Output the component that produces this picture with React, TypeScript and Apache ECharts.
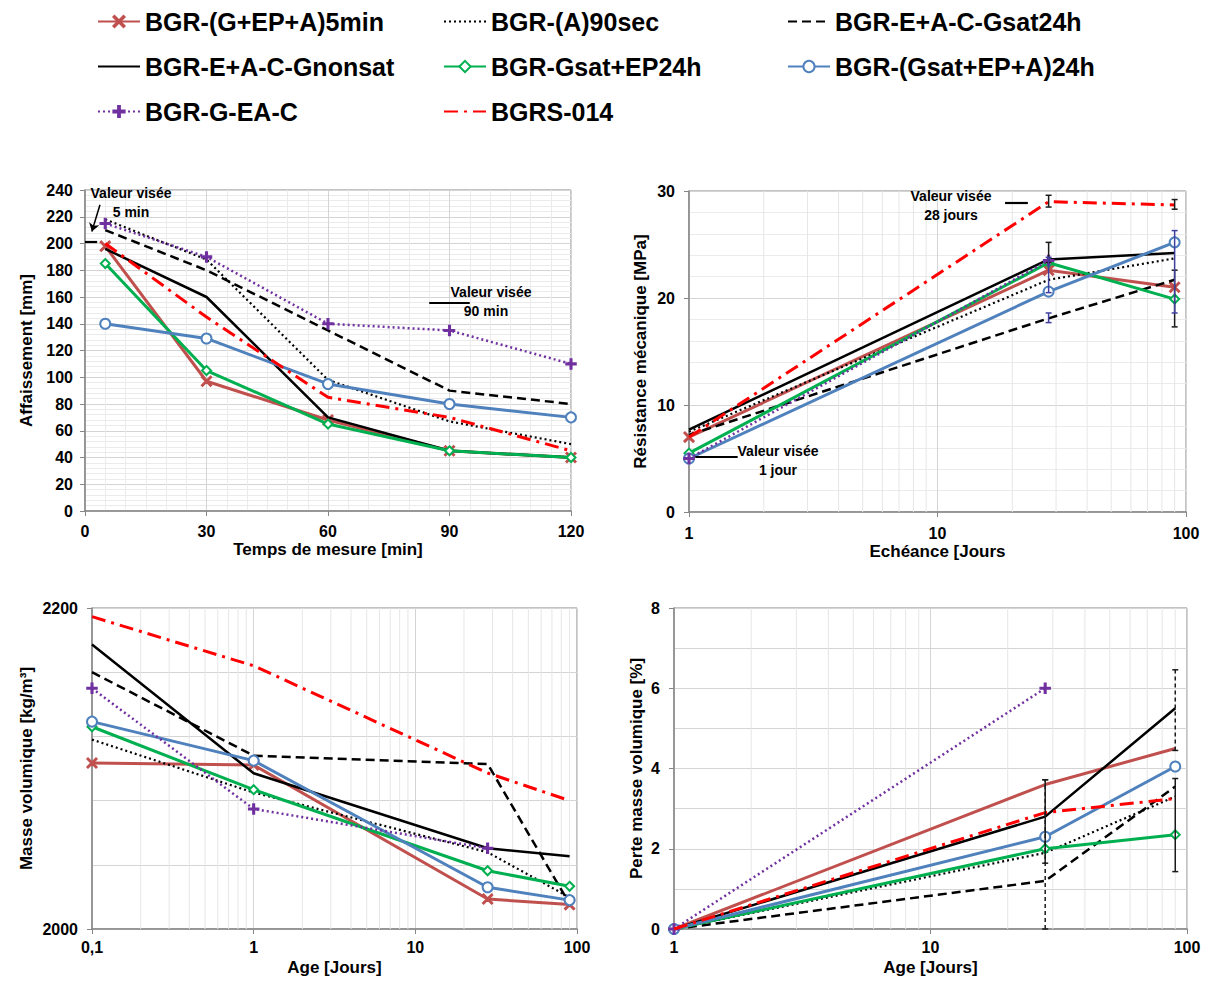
import React, { useEffect, useRef } from 'react';
import * as echarts from 'echarts';

const SERIES_NAMES = [
  'BGR-(G+EP+A)5min',
  'BGR-(A)90sec',
  'BGR-E+A-C-Gsat24h',
  'BGR-E+A-C-Gnonsat',
  'BGR-Gsat+EP24h',
  'BGR-(Gsat+EP+A)24h',
  'BGR-G-EA-C',
  'BGRS-014',
];

// Panel 1 : Affaissement [mm] vs Temps de mesure [min]
const SLUMP_TIMES = [5, 30, 60, 90, 120];
const SLUMP = [
  [198, 97, 68, 45, 40],
  [218, 188, 98, 67, 50],
  [210, 180, 135, 90, 80],
  [196, 160, 70, 45, 40],
  [185, 105, 65, 45, 40],
  [140, 129, 95, 80, 70],
  [215, 190, 140, 135, 110],
  [200, 145, 85, 70, 45],
];

// Panel 2 : Résistance mécanique [MPa] vs Echéance
const STRENGTH_AGES = [1, 28, 90];
const STRENGTH = [
  [7.0, 22.6, 21.0],
  [7.5, 21.7, 23.7],
  [7.2, 18.1, 21.7],
  [7.7, 23.6, 24.2],
  [5.5, 23.3, 19.9],
  [5.0, 20.6, 25.2],
  [5.0, 23.5],
  [7.0, 29.0, 28.7],
];
const STRENGTH_BARS_DARK = [[28, 28.5, 29.6], [28, 23.3, 25.2], [90, 28.3, 29.2], [90, 17.3, 22.6]];
const STRENGTH_BARS_BLUE = [[28, 20.5, 23.8], [28, 17.7, 18.6], [90, 18.6, 26.3]];

// Panel 3 : Masse volumique [kg/m3] vs Age
const DENSITY_AGES = [0.1, 1, 28, 90];
const DENSITY = [
  [2103.4, 2102.2, 2018.7, 2015.2],
  [2118, 2085, 2047.8, 2019.7],
  [2160, 2108, 2102.8, 2015.6],
  [2177.2, 2097, 2050.3, 2045.3],
  [2126, 2086.8, 2036.3, 2026.6],
  [2129.2, 2104.9, 2026, 2018],
  [2150, 2074.8, 2050.3],
  [2194.6, 2164, 2097.2, 2080],
];

// Panel 4 : Perte masse volumique [%] vs Age
const LOSS_AGES = [1, 28, 90];
const LOSS = [
  [0, 3.6, 4.5],
  [0, 1.9, 3.3],
  [0, 1.2, 3.55],
  [0, 2.8, 5.5],
  [0, 2.0, 2.35],
  [0, 2.3, 4.05],
  [0, 6.0],
  [0, 2.9, 3.25],
];
const LOSS_BARS_SOLID = [[28, 1.64, 3.72], [90, 1.43, 3.75]];
const LOSS_BARS_DASHED = [[28, 0, 3.72], [90, 4.45, 6.46]];

// Log minor grid values
const MINOR_LOG_1_100 = [2, 3, 4, 5, 6, 7, 8, 9, 20, 30, 40, 50, 60, 70, 80, 90];
const MINOR_LOG_01_100 = [0.2, 0.3, 0.4, 0.5, 0.6, 0.7, 0.8, 0.9, 2, 3, 4, 5, 6, 7, 8, 9, 20, 30, 40, 50, 60, 70, 80, 90];

// Target-value ("Valeur visée") segments
const SLUMP_TARGETS = [[[0, 201], [3, 201]], [[85, 155.5], [95, 155.5]]];
const SLUMP_ARROW = [[3.7, 229], [1.7, 209]];
const STRENGTH_TARGETS = [[[1.06, 5.14], [1.57, 5.14]], [[18.7, 28.9], [23.1, 28.9]]];

const FONT = '"Liberation Sans", Arial, sans-serif';

const X_PATH = 'path://M0,1 L1,0 L5,4 L9,0 L10,1 L6,5 L10,9 L9,10 L5,6 L1,10 L0,9 L4,5 Z';
const PLUS_PATH = 'path://M4.2,0 H5.8 V4.2 H10 V5.8 H5.8 V10 H4.2 V5.8 H0 V4.2 H4.2 Z';

const STYLES: any[] = [
  { color: '#C0504D', type: 'solid', width: 3, symbol: X_PATH, size: 10 },
  { color: '#000000', type: [2, 3], width: 2.2, symbol: 'none', size: 0 },
  { color: '#000000', type: [9, 5], width: 2.5, symbol: 'none', size: 0 },
  { color: '#000000', type: 'solid', width: 2.5, symbol: 'none', size: 0 },
  { color: '#00B050', type: 'solid', width: 3, symbol: 'emptyDiamond', size: 9 },
  { color: '#4F81BD', type: 'solid', width: 3, symbol: 'emptyCircle', size: 10 },
  { color: '#7030A0', type: [2, 3], width: 2.5, symbol: PLUS_PATH, size: 10 },
  { color: '#FF0000', type: [14, 6, 3, 6], width: 3, symbol: 'none', size: 0 },
];

const LEGEND_POS = [[97, 9], [443, 9], [787, 9], [97, 54], [443, 54], [787, 54], [97, 99], [443, 99]];

const axisFont = { fontFamily: FONT, fontWeight: 'bold', fontSize: 16, color: '#000' };
const nameFont = { fontFamily: FONT, fontWeight: 'bold', fontSize: 17, color: '#000' };
const majorGrid = { show: true, lineStyle: { color: '#d4d4d4', width: 1 } };
const minorGrid = { show: true, lineStyle: { color: '#ebebeb', width: 1 } };
const axisLine = { show: true, onZero: false, lineStyle: { color: '#868686', width: 1.5 } };
const axisTick = { show: true, inside: false, length: 5, lineStyle: { color: '#868686' } };

const logFmt = (v: number) => String(parseFloat(Number(v).toPrecision(6))).replace('.', ',');
const plainFmt = (v: number) => String(v);

function dataSeries(gi: number, xs: number[], table: number[][], hideMarkers: number[] = []) {
  return table.map((vals, i) => {
    const s = STYLES[i];
    const show = s.symbol !== 'none' && hideMarkers.indexOf(i) < 0;
    return {
      name: SERIES_NAMES[i],
      type: 'line',
      xAxisIndex: gi,
      yAxisIndex: gi,
      data: vals.map((v, j) => [xs[j], v]),
      symbol: s.symbol,
      symbolSize: s.size,
      showSymbol: show,
      lineStyle: { color: s.color, width: s.width, type: s.type },
      itemStyle: { color: s.color, borderColor: s.color, borderWidth: 1.5 },
      z: 3 + i * 0.01,
      silent: true,
    };
  });
}

function errorBars(gi: number, data: number[][], color: string, dashed: boolean) {
  return {
    type: 'custom',
    xAxisIndex: gi,
    yAxisIndex: gi,
    data,
    encode: { x: 0, y: [1, 2] },
    silent: true,
    z: 4,
    renderItem: (params: any, api: any) => {
      const x = api.value(0);
      const lo = api.coord([x, api.value(1)]);
      const hi = api.coord([x, api.value(2)]);
      const c = 3;
      const cap = { stroke: color, lineWidth: 1.5 };
      const stem: any = { stroke: color, lineWidth: 1.5 };
      if (dashed) stem.lineDash = [4, 3];
      return {
        type: 'group',
        children: [
          { type: 'line', shape: { x1: lo[0], y1: lo[1], x2: hi[0], y2: hi[1] }, style: stem },
          { type: 'line', shape: { x1: lo[0] - c, y1: lo[1], x2: lo[0] + c, y2: lo[1] }, style: cap },
          { type: 'line', shape: { x1: hi[0] - c, y1: hi[1], x2: hi[0] + c, y2: hi[1] }, style: cap },
        ],
      };
    },
  };
}

function minorLogLines(gi: number, values: number[], yRef: number) {
  return {
    type: 'custom',
    xAxisIndex: gi,
    yAxisIndex: gi,
    data: values.map((v) => [v, yRef]),
    encode: { x: 0, y: 1 },
    silent: true,
    z: 1,
    renderItem: (params: any, api: any) => {
      const p = api.coord([api.value(0), api.value(1)]);
      const cs = params.coordSys;
      return {
        type: 'line',
        shape: { x1: p[0], y1: cs.y, x2: p[0], y2: cs.y + cs.height },
        style: { stroke: '#e6e6e6', lineWidth: 1 },
      };
    },
  };
}

function targetLines(gi: number, segs: number[][][], arrow?: number[][]) {
  const data: any[] = segs.map((s) => [
    { coord: s[0], symbol: 'none' },
    { coord: s[1], symbol: 'none' },
  ]);
  if (arrow) {
    data.push([
      { coord: arrow[0], symbol: 'none', lineStyle: { width: 1.5 } },
      { coord: arrow[1], symbol: 'arrow', symbolSize: 8, lineStyle: { width: 1.5 } },
    ]);
  }
  return {
    type: 'line',
    xAxisIndex: gi,
    yAxisIndex: gi,
    data: [],
    silent: true,
    markLine: {
      silent: true,
      animation: false,
      symbol: ['none', 'none'],
      label: { show: false },
      lineStyle: { color: '#000', type: 'solid', width: 2.2 },
      data,
    },
  };
}

function annText(x: number, y: number, text: string) {
  return {
    type: 'text',
    x,
    y,
    style: {
      text,
      fill: '#000',
      font: `bold 14px ${FONT}`,
      textAlign: 'center',
      textVerticalAlign: 'middle',
    },
    z: 10,
  };
}

function buildOption(): any {
  const grids = [
    { left: 85, top: 190, width: 486, height: 321 },
    { left: 689, top: 191, width: 497, height: 321 },
    { left: 92, top: 608, width: 485, height: 321 },
    { left: 674, top: 608, width: 513, height: 321 },
  ].map((g) => ({ ...g, show: true, borderColor: '#868686', borderWidth: 1, containLabel: false }));

  const xAxes = [
    {
      gridIndex: 0, type: 'value', min: 0, max: 120, interval: 30,
      name: 'Temps de mesure [min]', nameLocation: 'middle', nameGap: 30, nameTextStyle: nameFont,
      axisLabel: { ...axisFont, margin: 12 }, axisLine, axisTick,
      splitLine: majorGrid, minorTick: { show: false, splitNumber: 6 }, minorSplitLine: minorGrid,
    },
    {
      gridIndex: 1, type: 'log', logBase: 10, min: 1, max: 100,
      name: 'Echéance [Jours', nameLocation: 'middle', nameGap: 31, nameTextStyle: nameFont,
      axisLabel: { ...axisFont, margin: 13, formatter: logFmt }, axisLine, axisTick,
      splitLine: majorGrid,
    },
    {
      gridIndex: 2, type: 'log', logBase: 10, min: 0.1, max: 100,
      name: 'Age [Jours]', nameLocation: 'middle', nameGap: 30, nameTextStyle: nameFont,
      axisLabel: { ...axisFont, margin: 10, formatter: logFmt }, axisLine, axisTick,
      splitLine: majorGrid,
    },
    {
      gridIndex: 3, type: 'log', logBase: 10, min: 1, max: 100,
      name: 'Age [Jours]', nameLocation: 'middle', nameGap: 30, nameTextStyle: nameFont,
      axisLabel: { ...axisFont, margin: 10, formatter: logFmt }, axisLine, axisTick,
      splitLine: majorGrid,
    },
  ];

  const yAxes = [
    {
      gridIndex: 0, type: 'value', min: 0, max: 240, interval: 20,
      name: 'Affaissement [mm]', nameLocation: 'middle', nameGap: 50, nameTextStyle: nameFont,
      axisLabel: { ...axisFont, margin: 12 }, axisLine, axisTick,
      splitLine: majorGrid, minorTick: { show: false, splitNumber: 5 }, minorSplitLine: minorGrid,
    },
    {
      gridIndex: 1, type: 'value', min: 0, max: 30, interval: 10,
      name: 'Résistance mécanique [MPa]', nameLocation: 'middle', nameGap: 40, nameTextStyle: nameFont,
      axisLabel: { ...axisFont, margin: 14 }, axisLine, axisTick,
      splitLine: majorGrid, minorTick: { show: false, splitNumber: 5 }, minorSplitLine: minorGrid,
    },
    {
      gridIndex: 2, type: 'value', min: 2000, max: 2200, interval: 200,
      name: 'Masse volumique [kg/m³]', nameLocation: 'middle', nameGap: 57, nameTextStyle: nameFont,
      axisLabel: { ...axisFont, margin: 14, formatter: plainFmt }, axisLine, axisTick,
      splitLine: majorGrid, minorTick: { show: false, splitNumber: 5 }, minorSplitLine: majorGrid,
    },
    {
      gridIndex: 3, type: 'value', min: 0, max: 8, interval: 2,
      name: 'Perte masse volumique [%]', nameLocation: 'middle', nameGap: 29, nameTextStyle: nameFont,
      axisLabel: { ...axisFont, margin: 14 }, axisLine, axisTick,
      splitLine: majorGrid, minorTick: { show: false, splitNumber: 2 }, minorSplitLine: majorGrid,
    },
  ];

  const series: any[] = [
    minorLogLines(1, MINOR_LOG_1_100, 0),
    minorLogLines(2, MINOR_LOG_01_100, 2000),
    minorLogLines(3, MINOR_LOG_1_100, 0),
    ...dataSeries(0, SLUMP_TIMES, SLUMP),
    ...dataSeries(1, STRENGTH_AGES, STRENGTH),
    ...dataSeries(2, DENSITY_AGES, DENSITY),
    ...dataSeries(3, LOSS_AGES, LOSS, [0]),
    errorBars(1, STRENGTH_BARS_DARK, '#1a1a1a', false),
    errorBars(1, STRENGTH_BARS_BLUE, '#3f3fa0', false),
    errorBars(3, LOSS_BARS_SOLID, '#1a1a1a', false),
    errorBars(3, LOSS_BARS_DASHED, '#1a1a1a', true),
    targetLines(0, SLUMP_TARGETS, SLUMP_ARROW),
    targetLines(1, STRENGTH_TARGETS),
  ];

  const legend = SERIES_NAMES.map((n, i) => {
    const item: any = {
      data: [n],
      left: LEGEND_POS[i][0],
      top: LEGEND_POS[i][1],
      itemWidth: 42,
      itemHeight: 14,
      padding: 0,
      selectedMode: false,
      textStyle: { fontFamily: FONT, fontWeight: 'bold', fontSize: 25, color: '#000' },
    };
    if (STYLES[i].symbol === 'none') item.itemStyle = { opacity: 0 };
    return item;
  });

  const graphic = [
    annText(131, 193, 'Valeur visée'),
    annText(131, 212, '5 min'),
    annText(491, 292, 'Valeur visée'),
    annText(486, 311, '90 min'),
    annText(951, 196, 'Valeur visée'),
    annText(951, 215, '28 jours'),
    annText(778, 451, 'Valeur visée'),
    annText(778, 470, '1 jour'),
  ];

  return {
    animation: false,
    backgroundColor: '#ffffff',
    grid: grids,
    xAxis: xAxes,
    yAxis: yAxes,
    legend,
    series,
    graphic,
  };
}

export default function App() {
  const ref = useRef<HTMLDivElement>(null);
  useEffect(() => {
    if (!ref.current) return;
    const chart = echarts.init(ref.current, undefined, { renderer: 'svg' });
    chart.setOption(buildOption());
    return () => chart.dispose();
  }, []);
  return (
    <div
      ref={ref}
      style={{ position: 'fixed', left: 0, top: 0, width: 1207, height: 981, background: '#fff' }}
    />
  );
}
